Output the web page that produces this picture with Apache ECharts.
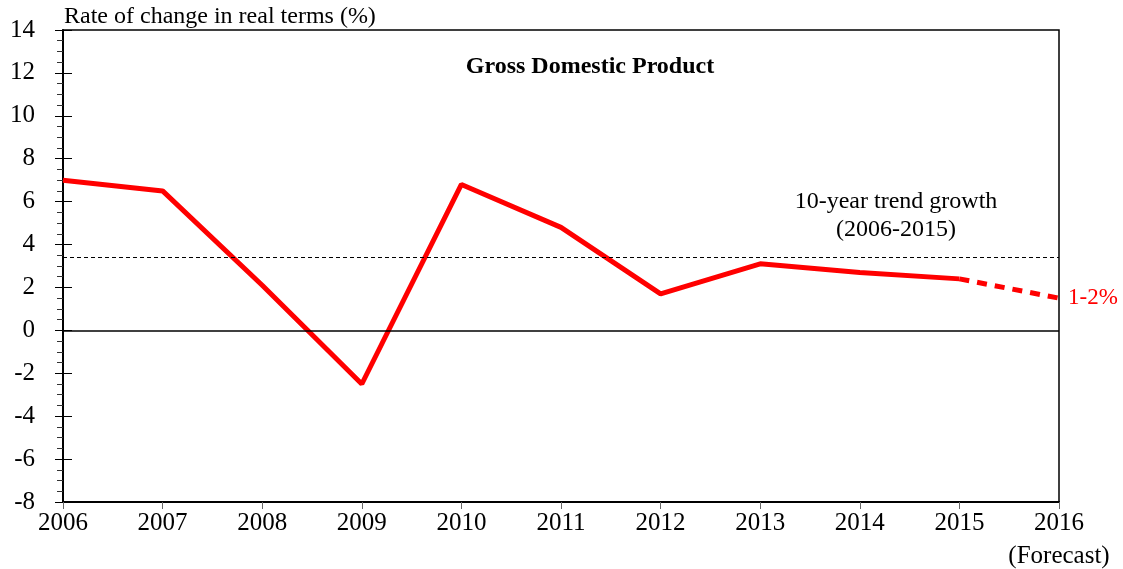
<!DOCTYPE html>
<html>
<head>
<meta charset="utf-8">
<script src="https://cdn.jsdelivr.net/npm/echarts@6/dist/echarts.min.js"></script>
<style>
  html, body { margin: 0; padding: 0; background: #fff; }
  #chart { width: 1123px; height: 569px; }
</style>
</head>
<body>
<div id="chart"></div>
<script>
// years on the x axis
const years = ['2006', '2007', '2008', '2009', '2010', '2011', '2012', '2013', '2014', '2015', '2016'];
// actual growth (solid), forecast segment (dashed)
const actual = [7.0, 6.5, 2.1, -2.5, 6.8, 4.8, 1.7, 3.1, 2.7, 2.4, null];
const forecast = [null, null, null, null, null, null, null, null, null, 2.4, 1.5];
const trendValue = 3.4;
const forecastLabel = '1-2%';

const serif = '"Liberation Serif", "Times New Roman", serif';

const chart = echarts.init(document.getElementById('chart'));
const options = {
    animation: false,
    title: {
        text: 'Gross Domestic Product',
        left: 585,
        top: 50,
        textAlign: 'center',
        textStyle: {
            fontFamily: serif,
            fontSize: 24,
            fontWeight: 'bold',
            color: '#000'
        }
    },
    grid: {
        left: 63,
        right: 64,
        top: 30,
        bottom: 67,
        containLabel: false,
        outerBoundsMode: 'none',
        show: true,
        borderColor: '#000',
        borderWidth: 1.5
    },
    xAxis: {
        type: 'category',
        data: years,
        boundaryGap: false,
        axisLine: { onZero: false, lineStyle: { color: '#000', width: 2 } },
        axisTick: { show: true, interval: 0, length: 7, lineStyle: { color: '#666' } },
        axisLabel: {
            interval: 0,
            fontFamily: serif,
            fontSize: 25,
            color: '#000',
            margin: 5,
            lineHeight: 33,
            formatter: function (v) {
                return v === '2016' ? v + '\n(Forecast)' : v;
            }
        }
    },
    yAxis: [
        {
            type: 'value',
            min: -8,
            max: 14,
            interval: 2,
            axisLine: { show: true, lineStyle: { color: '#000', width: 2 } },
            axisTick: { show: true, length: 8, lineStyle: { color: '#000' } },
            minorTick: { show: true, splitNumber: 4, length: 6, lineStyle: { color: '#333' } },
            splitLine: { show: false },
            axisLabel: {
                fontFamily: serif,
                fontSize: 25,
                color: '#000',
                margin: 28
            }
        },
        {
            // inner half of the major ticks
            type: 'value',
            min: -8,
            max: 14,
            interval: 2,
            position: 'left',
            axisLine: { show: false },
            axisTick: { show: true, inside: true, length: 9, lineStyle: { color: '#000' } },
            axisLabel: { show: false },
            splitLine: { show: false }
        }
    ],
    series: [
        {
            name: 'actual',
            type: 'line',
            data: actual,
            symbol: 'none',
            lineStyle: { color: '#ff0000', width: 5 },
            markLine: {
                silent: true,
                symbol: 'none',
                label: { show: false },
                data: [
                    { yAxis: trendValue, lineStyle: { color: '#000', width: 1.2, type: [4, 3] } },
                    { yAxis: 0, lineStyle: { color: '#000', width: 1.5, type: 'solid' } }
                ]
            }
        },
        {
            name: 'forecast',
            type: 'line',
            data: forecast,
            symbol: 'none',
            lineStyle: { color: '#ff0000', width: 5, type: [10, 8] },
            endLabel: {
                show: true,
                formatter: forecastLabel,
                fontFamily: serif,
                fontSize: 23,
                color: '#ff0000',
                distance: 9
            }
        }
    ],
    graphic: [
        {
            // y axis title
            type: 'text',
            x: 64,
            y: 17,
            style: {
                text: 'Rate of change in real terms (%)',
                align: 'left',
                verticalAlign: 'middle',
                fontFamily: serif,
                fontSize: 24,
                fill: '#000'
            }
        },
        {
            type: 'text',
            x: 896,
            y: 188,
            style: {
                text: '10-year trend growth\n(2006-2015)',
                align: 'center',
                verticalAlign: 'top',
                fontFamily: serif,
                fontSize: 24,
                lineHeight: 28,
                fill: '#000'
            }
        }
    ]
};
chart.setOption(options);
</script>
</body>
</html>
